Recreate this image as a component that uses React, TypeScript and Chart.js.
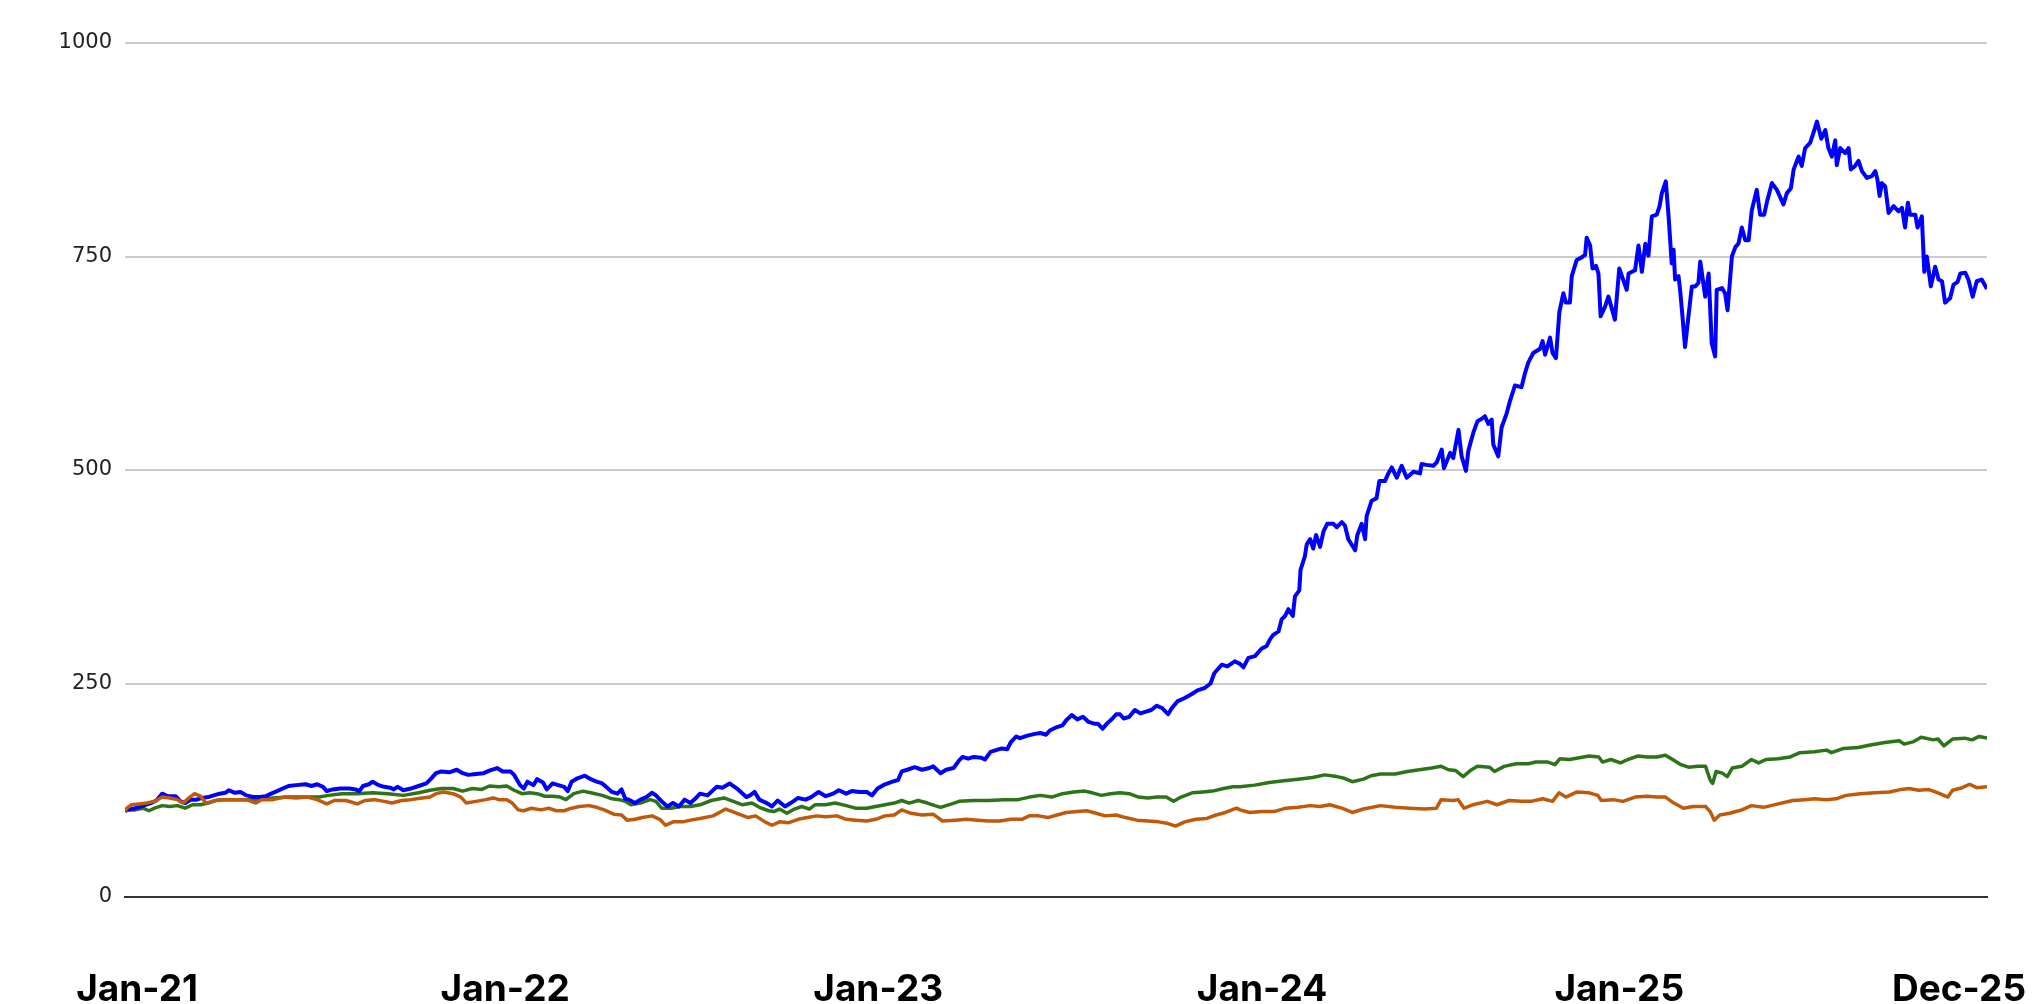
import React, { useEffect, useRef } from "react";
import { Chart, registerables } from "chart.js";

Chart.register(...registerables);

// x = months since 1 Jan 2021, y = indexed value (start = 100)
const blueSeries: [number, number][] = [
  [0, 100], [0.06, 102], [0.33, 104], [0.52, 106], [0.83, 110], [1.01, 113], [1.2, 121], [1.38, 118], [1.63, 118], [1.79, 112],
  [1.94, 110], [2.12, 114], [2.31, 114], [2.49, 116], [2.68, 117], [2.86, 119], [3.05, 121], [3.23, 122], [3.35, 125], [3.54, 122],
  [3.72, 123], [3.91, 119], [4.16, 117], [4.34, 117], [4.53, 118], [4.71, 121], [4.9, 124], [5.08, 127], [5.27, 130], [5.51, 131],
  [5.82, 132], [6.01, 130], [6.19, 132], [6.38, 129], [6.5, 124], [6.69, 126], [6.93, 127], [7.24, 127], [7.43, 126], [7.55, 124],
  [7.67, 130], [7.86, 132], [7.98, 135], [8.17, 131], [8.35, 129], [8.54, 128], [8.66, 126], [8.78, 129], [8.97, 125], [9.21, 127],
  [9.46, 130], [9.71, 133], [9.85, 138], [10.02, 145], [10.2, 147], [10.45, 146], [10.69, 149], [10.88, 145], [11.06, 143], [11.31, 144],
  [11.56, 145], [11.74, 148], [11.99, 151], [12.17, 147], [12.42, 147], [12.54, 143], [12.73, 131], [12.85, 127], [12.97, 135], [13.16, 131],
  [13.28, 138], [13.47, 134], [13.59, 126], [13.78, 133], [13.96, 131], [14.15, 129], [14.27, 124], [14.39, 135], [14.58, 139], [14.82, 142],
  [15.01, 138], [15.2, 135], [15.38, 133], [15.5, 129], [15.69, 123], [15.87, 121], [16.0, 126], [16.12, 115], [16.24, 114], [16.43, 110],
  [16.61, 114], [16.8, 117], [16.98, 122], [17.11, 119], [17.29, 112], [17.48, 106], [17.66, 110], [17.85, 106], [18.03, 114], [18.22, 110],
  [18.4, 116], [18.53, 121], [18.77, 119], [19.07, 129], [19.25, 128], [19.48, 133], [19.72, 127], [20.02, 117], [20.14, 119], [20.29, 123],
  [20.44, 114], [20.68, 110], [20.85, 106], [21.03, 113], [21.27, 106], [21.45, 110], [21.69, 116], [21.93, 114], [22.11, 117], [22.35, 123],
  [22.58, 118], [22.82, 121], [23.0, 125], [23.24, 121], [23.42, 124], [23.66, 123], [23.9, 123], [24.07, 119], [24.25, 127], [24.49, 132],
  [24.73, 135], [24.91, 137], [25.03, 147], [25.21, 149], [25.45, 152], [25.68, 149], [25.92, 151], [26.04, 153], [26.28, 145], [26.46, 149],
  [26.7, 151], [26.88, 160], [26.99, 164], [27.17, 162], [27.35, 164], [27.59, 163], [27.71, 161], [27.89, 170], [28.07, 172], [28.25, 174],
  [28.43, 173], [28.54, 181], [28.72, 188], [28.84, 186], [29.08, 189], [29.32, 191], [29.5, 192], [29.68, 190], [29.8, 195], [30.03, 199],
  [30.21, 201], [30.33, 207], [30.51, 213], [30.69, 208], [30.87, 211], [31.05, 205], [31.23, 203], [31.35, 203], [31.5, 197], [31.64, 203],
  [31.82, 209], [31.94, 214], [32.06, 214], [32.18, 209], [32.36, 211], [32.54, 219], [32.72, 215], [32.9, 217], [33.07, 219], [33.25, 224],
  [33.43, 221], [33.61, 214], [33.73, 221], [33.91, 229], [34.15, 233], [34.39, 238], [34.56, 242], [34.8, 245], [34.98, 250], [35.1, 262],
  [35.34, 272], [35.52, 270], [35.76, 276], [35.93, 273], [36.04, 269], [36.2, 280], [36.41, 282], [36.63, 291], [36.79, 294], [36.9, 302],
  [37.0, 307], [37.17, 311], [37.27, 325], [37.38, 329], [37.49, 337], [37.63, 329], [37.7, 352], [37.84, 359], [37.88, 383], [38.02, 399],
  [38.08, 413], [38.19, 419], [38.29, 408], [38.38, 424], [38.51, 410], [38.62, 428], [38.74, 437], [38.94, 437], [39.05, 433], [39.21, 439],
  [39.31, 435], [39.42, 419], [39.64, 406], [39.71, 424], [39.85, 437], [39.96, 419], [40.01, 446], [40.17, 464], [40.33, 467], [40.42, 487],
  [40.6, 487], [40.71, 496], [40.82, 503], [40.98, 491], [41.14, 505], [41.3, 491], [41.52, 498], [41.73, 496], [41.78, 507], [41.94, 506],
  [42.16, 505], [42.27, 509], [42.43, 524], [42.5, 502], [42.7, 520], [42.8, 514], [42.97, 547], [43.07, 516], [43.21, 499], [43.29, 523],
  [43.45, 544], [43.58, 557], [43.72, 560], [43.82, 563], [43.93, 554], [44.04, 559], [44.09, 530], [44.25, 516], [44.36, 550], [44.52, 566],
  [44.63, 581], [44.79, 599], [45.0, 597], [45.11, 613], [45.22, 626], [45.38, 637], [45.6, 642], [45.68, 651], [45.76, 635], [45.92, 655],
  [46.0, 637], [46.11, 631], [46.22, 685], [46.35, 707], [46.43, 696], [46.56, 696], [46.62, 727], [46.78, 746], [46.94, 749], [47.05, 752],
  [47.1, 772], [47.21, 763], [47.29, 736], [47.4, 739], [47.48, 730], [47.55, 680], [47.69, 691], [47.8, 703], [47.91, 689], [48.01, 676],
  [48.15, 736], [48.39, 711], [48.45, 730], [48.66, 734], [48.77, 763], [48.88, 732], [48.99, 765], [49.09, 751], [49.2, 797], [49.36, 799],
  [49.45, 809], [49.52, 824], [49.65, 838], [49.74, 797], [49.84, 742], [49.9, 758], [49.95, 723], [50.06, 727], [50.11, 711], [50.17, 687],
  [50.27, 644], [50.38, 680], [50.49, 715], [50.6, 715], [50.7, 719], [50.76, 744], [50.92, 703], [51.03, 730], [51.13, 648], [51.24, 633],
  [51.29, 711], [51.46, 713], [51.56, 707], [51.64, 687], [51.78, 750], [51.89, 761], [51.99, 765], [52.1, 784], [52.21, 769], [52.32, 769],
  [52.42, 804], [52.58, 828], [52.69, 799], [52.82, 799], [52.91, 814], [53.07, 836], [53.23, 828], [53.44, 811], [53.55, 824], [53.68, 830],
  [53.77, 852], [53.93, 867], [54.03, 856], [54.14, 877], [54.3, 883], [54.41, 895], [54.52, 908], [54.66, 888], [54.79, 898], [54.89, 877],
  [55.0, 867], [55.11, 886], [55.16, 857], [55.27, 877], [55.43, 871], [55.54, 877], [55.61, 852], [55.75, 856], [55.86, 862], [55.97, 850],
  [56.13, 842], [56.29, 844], [56.4, 850], [56.47, 840], [56.54, 821], [56.61, 836], [56.72, 832], [56.83, 801], [56.99, 809], [57.15, 803],
  [57.26, 807], [57.36, 784], [57.45, 813], [57.52, 799], [57.69, 799], [57.76, 784], [57.9, 797], [57.98, 732], [58.06, 750], [58.19, 715],
  [58.33, 738], [58.44, 723], [58.55, 721], [58.65, 696], [58.81, 701], [58.92, 717], [59.05, 720], [59.14, 730], [59.3, 731], [59.4, 723],
  [59.54, 703], [59.67, 721], [59.83, 723], [60, 712],
];

const greenSeries: [number, number][] = [
  [0, 100], [0.06, 102], [0.33, 102], [0.58, 104], [0.77, 101], [0.95, 104], [1.2, 107], [1.44, 106], [1.69, 107], [1.94, 104],
  [2.18, 108], [2.43, 108], [2.68, 110], [2.92, 113], [3.17, 114], [3.54, 114], [3.91, 114], [4.28, 114], [4.77, 116], [5.27, 117],
  [5.76, 117], [6.25, 117], [6.56, 119], [6.99, 121], [7.49, 121], [7.98, 122], [8.47, 121], [8.97, 119], [9.46, 122], [9.83, 125],
  [10.2, 127], [10.57, 127], [10.88, 124], [11.19, 127], [11.5, 126], [11.74, 130], [12.05, 129], [12.3, 130], [12.54, 125], [12.79, 121],
  [13.04, 122], [13.28, 121], [13.53, 118], [13.78, 118], [14.02, 117], [14.21, 114], [14.46, 121], [14.76, 124], [15.01, 122], [15.38, 119],
  [15.69, 115], [15.93, 114], [16.12, 112], [16.3, 108], [16.61, 110], [16.92, 114], [17.11, 112], [17.29, 104], [17.6, 104], [17.91, 106],
  [18.22, 106], [18.53, 108], [18.89, 113], [19.3, 116], [19.6, 112], [19.9, 108], [20.2, 110], [20.44, 105], [20.74, 101], [20.91, 100],
  [21.09, 103], [21.33, 98], [21.57, 103], [21.81, 106], [22.05, 103], [22.23, 108], [22.58, 108], [22.88, 110], [23.24, 107], [23.54, 104],
  [23.9, 104], [24.19, 106], [24.49, 108], [24.79, 110], [25.03, 113], [25.27, 110], [25.56, 113], [25.86, 110], [26.1, 107], [26.28, 105],
  [26.64, 109], [26.88, 112], [27.35, 113], [27.83, 113], [28.31, 114], [28.78, 114], [29.14, 117], [29.5, 119], [29.86, 117], [30.21, 121],
  [30.57, 123], [30.93, 124], [31.17, 122], [31.46, 119], [31.76, 121], [32.06, 122], [32.36, 121], [32.66, 117], [32.96, 116], [33.25, 117],
  [33.55, 117], [33.79, 112], [34.03, 117], [34.39, 122], [34.74, 123], [35.04, 124], [35.4, 127], [35.7, 129], [35.93, 129], [36.4, 131],
  [36.87, 134], [37.34, 136], [37.8, 138], [38.27, 140], [38.66, 143], [39.05, 141], [39.29, 139], [39.55, 135], [39.91, 138], [40.15, 142],
  [40.46, 144], [40.93, 144], [41.32, 147], [41.71, 149], [42.1, 151], [42.41, 153], [42.65, 149], [42.88, 148], [43.12, 141], [43.35, 148],
  [43.58, 153], [43.97, 152], [44.13, 147], [44.44, 153], [44.83, 156], [45.22, 156], [45.46, 158], [45.85, 158], [46.08, 155], [46.24, 162],
  [46.55, 161], [46.86, 163], [47.18, 165], [47.49, 164], [47.61, 158], [47.88, 161], [48.19, 157], [48.43, 161], [48.74, 165], [49.05, 164],
  [49.36, 164], [49.64, 166], [49.91, 160], [50.14, 155], [50.38, 152], [50.69, 153], [50.93, 153], [51.08, 137], [51.16, 133], [51.27, 147],
  [51.47, 145], [51.63, 141], [51.79, 151], [52.1, 153], [52.41, 161], [52.64, 157], [52.88, 161], [53.27, 162], [53.66, 164], [53.97, 169],
  [54.44, 170], [54.83, 172], [54.99, 169], [55.38, 174], [55.85, 175], [56.24, 178], [56.71, 181], [57.17, 183], [57.33, 179], [57.64, 182],
  [57.88, 187], [58.27, 184], [58.42, 185], [58.61, 177], [58.89, 185], [59.28, 186], [59.52, 184], [59.75, 188], [60, 186],
];

const orangeSeries: [number, number][] = [
  [0, 100], [0.06, 104], [0.21, 108], [0.46, 109], [0.7, 110], [0.95, 112], [1.2, 117], [1.44, 116], [1.69, 114], [1.87, 110],
  [2.06, 116], [2.24, 121], [2.43, 118], [2.61, 110], [2.8, 112], [3.05, 114], [3.29, 114], [3.54, 114], [3.91, 114], [4.22, 110],
  [4.4, 114], [4.77, 114], [5.14, 117], [5.51, 116], [5.88, 117], [6.19, 114], [6.5, 109], [6.75, 113], [7.12, 113], [7.49, 109],
  [7.73, 113], [8.04, 114], [8.35, 112], [8.6, 110], [8.91, 113], [9.21, 114], [9.58, 116], [9.83, 117], [10.02, 121], [10.26, 123],
  [10.57, 121], [10.82, 117], [11.0, 110], [11.31, 112], [11.62, 114], [11.87, 116], [12.05, 114], [12.3, 114], [12.48, 110], [12.67, 102],
  [12.85, 101], [13.1, 104], [13.41, 102], [13.65, 104], [13.9, 101], [14.15, 101], [14.39, 104], [14.64, 106], [14.95, 107], [15.2, 105],
  [15.44, 102], [15.75, 97], [16.0, 96], [16.18, 90], [16.43, 91], [16.68, 93], [16.98, 95], [17.23, 91], [17.42, 84], [17.66, 88],
  [17.97, 88], [18.22, 90], [18.53, 92], [18.95, 95], [19.36, 103], [19.72, 98], [20.08, 93], [20.32, 95], [20.62, 88], [20.85, 84],
  [21.09, 88], [21.39, 87], [21.69, 91], [21.99, 93], [22.29, 95], [22.58, 94], [22.94, 95], [23.24, 91], [23.54, 90], [23.9, 89],
  [24.19, 91], [24.49, 95], [24.79, 96], [25.03, 102], [25.33, 98], [25.68, 96], [26.04, 97], [26.34, 89], [26.76, 90], [27.11, 91],
  [27.47, 90], [27.83, 89], [28.19, 89], [28.54, 91], [28.9, 91], [29.14, 95], [29.44, 95], [29.74, 93], [30.03, 96], [30.33, 99],
  [30.69, 100], [30.99, 101], [31.29, 98], [31.58, 95], [31.94, 96], [32.24, 93], [32.6, 90], [32.96, 89], [33.31, 88], [33.61, 86],
  [33.85, 83], [34.15, 88], [34.51, 91], [34.86, 92], [35.16, 96], [35.46, 99], [35.82, 104], [35.93, 102], [36.24, 99], [36.63, 100],
  [37.02, 100], [37.41, 104], [37.8, 105], [38.19, 107], [38.51, 106], [38.82, 108], [39.21, 104], [39.55, 99], [39.91, 103], [40.46, 107],
  [40.93, 105], [41.4, 104], [41.87, 103], [42.26, 104], [42.41, 114], [42.8, 113], [42.96, 114], [43.15, 104], [43.43, 108], [43.9, 112],
  [44.21, 108], [44.6, 113], [44.99, 112], [45.3, 112], [45.69, 115], [46.0, 112], [46.21, 122], [46.43, 117], [46.79, 123], [47.18, 122],
  [47.46, 119], [47.57, 113], [47.96, 114], [48.27, 112], [48.66, 117], [49.05, 118], [49.36, 117], [49.64, 117], [49.91, 110], [50.22, 104],
  [50.53, 106], [50.93, 106], [51.08, 100], [51.21, 90], [51.39, 96], [51.71, 98], [52.1, 102], [52.41, 107], [52.8, 105], [53.27, 109],
  [53.74, 113], [54.13, 114], [54.44, 115], [54.83, 114], [55.14, 115], [55.46, 119], [55.92, 121], [56.39, 122], [56.86, 123], [57.25, 126],
  [57.49, 127], [57.8, 125], [58.11, 126], [58.42, 122], [58.74, 117], [58.89, 125], [59.2, 128], [59.44, 132], [59.67, 128], [60, 129],
];

const tickMonths = [0.39, 12.25, 24.27, 36.64, 48.15, 59.1];
const tickLabels = ["Jan-21", "Jan-22", "Jan-23", "Jan-24", "Jan-25", "Dec-25"];
const yTicks = [0, 250, 500, 750, 1000];

const toPoints = (s: [number, number][]) => s.map(([x, y]) => ({ x, y }));

export default function App() {
  const canvasRef = useRef<HTMLCanvasElement | null>(null);

  useEffect(() => {
    if (!canvasRef.current) return;
    const chart = new Chart(canvasRef.current, {
      type: "line",
      data: {
        datasets: [
          {
            label: "Orange",
            data: toPoints(orangeSeries),
            borderColor: "#c0590a",
            borderWidth: 3.5,
            pointRadius: 0,
            tension: 0,
            borderJoinStyle: "round",
          },
          {
            label: "Blue",
            data: toPoints(blueSeries),
            borderColor: "#0000ff",
            borderWidth: 4,
            pointRadius: 0,
            tension: 0,
            borderJoinStyle: "round",
          },
          {
            label: "Green",
            data: toPoints(greenSeries),
            borderColor: "#2c7417",
            borderWidth: 3.5,
            pointRadius: 0,
            tension: 0,
            borderJoinStyle: "round",
          },
        ],
      },
      options: {
        animation: false,
        responsive: true,
        maintainAspectRatio: false,
        layout: { padding: { top: 43, right: 57, left: 0, bottom: 0 } },
        plugins: {
          legend: { display: false },
          tooltip: { enabled: false },
        },
        scales: {
          x: {
            type: "linear",
            min: 0,
            max: 60,
            grid: { display: false, drawTicks: false },
            border: { display: true, color: "#333333", width: 2 },
            afterBuildTicks: (axis: any) => {
              axis.ticks = tickMonths.map((v) => ({ value: v }));
            },
            afterFit: (axis: any) => {
              axis.height = 107;
              axis.paddingLeft = 0;
              axis.paddingRight = 0;
            },
            ticks: {
              autoSkip: false,
              maxRotation: 0,
              minRotation: 0,
              padding: 71,
              color: "#000000",
              font: { family: "Inter", weight: "bold", size: 37 },
              callback: (_v: any, i: number) => tickLabels[i],
            },
          },
          y: {
            min: 0,
            max: 1000,
            afterBuildTicks: (axis: any) => {
              axis.ticks = yTicks.map((v) => ({ value: v }));
            },
            afterFit: (axis: any) => {
              axis.width = 125;
              axis.paddingTop = 0;
              axis.paddingBottom = 0;
            },
            border: { display: false },
            grid: {
              drawTicks: false,
              lineWidth: 2,
              color: (ctx: any) => (ctx.tick && ctx.tick.value === 0 ? "#333333" : "#cccccc"),
            },
            ticks: {
              padding: 13,
              color: "#222222",
              font: { family: "DejaVu Sans", size: 21 },
              callback: (v: any) => String(v),
            },
          },
        },
      },
    });
    return () => chart.destroy();
  }, []);

  return (
    <div
      style={{
        position: "fixed",
        left: 0,
        top: 0,
        width: "2044px",
        height: "1004px",
        background: "#ffffff",
      }}
    >
      <canvas ref={canvasRef} />
    </div>
  );
}
